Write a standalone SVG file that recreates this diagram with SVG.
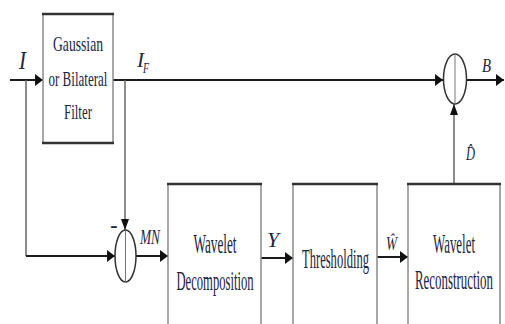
<svg xmlns="http://www.w3.org/2000/svg" width="505" height="324" viewBox="0 0 505 324">
<style>
.bg{fill:#ffffff}
.side{fill:none;stroke:#8a8a8a;stroke-width:1.5}
.edge{stroke:#333;stroke-width:2.5}
.h{stroke:#1a1a1a;stroke-width:2;fill:none}
.v{stroke:#666;stroke-width:1.5;fill:none}
.sum{fill:none;stroke:#333;stroke-width:1.5}
.cross{stroke:#777;stroke-width:1}
.t{font-family:"Liberation Serif","Times New Roman",serif;fill:#1c2540;text-anchor:middle}
.lab{font-family:"Liberation Serif","Times New Roman",serif;font-style:italic;fill:#1c2540}
</style>
<defs>
<marker id="ah" markerUnits="userSpaceOnUse" markerWidth="8" markerHeight="12" refX="8" refY="6" orient="auto"><path d="M0,0 L8,6 L0,12 Z" fill="#111"/></marker>
<marker id="av" markerUnits="userSpaceOnUse" markerWidth="11" markerHeight="8" refX="11" refY="4" orient="auto"><path d="M0,0 L11,4 L0,8 Z" fill="#111"/></marker>
</defs>
<rect class="bg" x="0" y="0" width="505" height="324"/>

<g id="connectors">
<line class="h" x1="10" y1="80" x2="43" y2="80" marker-end="url(#ah)"/>
<line class="h" x1="113" y1="80" x2="443" y2="80" marker-end="url(#ah)"/>
<line class="h" x1="466" y1="80" x2="504" y2="80" marker-end="url(#ah)"/>
<polyline class="v" points="26,80 26,256"/>
<line class="h" x1="26" y1="256" x2="115" y2="256" marker-end="url(#ah)"/>
<line class="v" x1="125" y1="80" x2="125" y2="230" marker-end="url(#av)"/>
<line class="h" x1="136" y1="256" x2="168" y2="256" marker-end="url(#ah)"/>
<line class="h" x1="261" y1="258" x2="293" y2="258" marker-end="url(#ah)"/>
<line class="h" x1="377" y1="257" x2="408" y2="257" marker-end="url(#ah)"/>
<line class="v" x1="454" y1="184" x2="454" y2="104" marker-end="url(#av)"/>
</g>

<g id="filter">
<rect class="side" x="43" y="14" width="70" height="129"/>
<line class="edge" x1="42" y1="14" x2="114" y2="14"/>
<line class="edge" x1="42" y1="143" x2="114" y2="143"/>
<text class="t" font-size="22" x="78" y="51" textLength="50" lengthAdjust="spacingAndGlyphs">Gaussian</text>
<text class="t" font-size="22" x="78" y="86" textLength="59" lengthAdjust="spacingAndGlyphs">or Bilateral</text>
<text class="t" font-size="22" x="78" y="119" textLength="28" lengthAdjust="spacingAndGlyphs">Filter</text>
</g>

<g id="sum1">
<ellipse class="sum" cx="125.5" cy="256" rx="10.5" ry="26"/>
<line class="cross" x1="125.5" y1="230" x2="125.5" y2="282"/>
<text class="t" font-size="22" font-weight="bold" x="114" y="232">-</text>
</g>

<g id="sum2">
<ellipse class="sum" cx="455" cy="79" rx="11.5" ry="25"/>
<line class="cross" x1="455" y1="54" x2="455" y2="104"/>
</g>

<g id="decomp">
<rect class="side" x="168" y="184" width="93" height="200"/>
<line class="edge" x1="167" y1="184" x2="262" y2="184"/>
<text class="t" font-size="27" x="215" y="253" textLength="43" lengthAdjust="spacingAndGlyphs">Wavelet</text>
<text class="t" font-size="27" x="215" y="290" textLength="77" lengthAdjust="spacingAndGlyphs">Decomposition</text>
</g>

<g id="thresh">
<rect class="side" x="293" y="184" width="84" height="200"/>
<line class="edge" x1="292" y1="184" x2="378" y2="184"/>
<text class="t" font-size="28" x="335.5" y="268" textLength="67" lengthAdjust="spacingAndGlyphs">Thresholding</text>
</g>

<g id="recon">
<rect class="side" x="408" y="184" width="92" height="200"/>
<line class="edge" x1="407" y1="184" x2="501" y2="184"/>
<text class="t" font-size="27" x="454" y="253" textLength="42" lengthAdjust="spacingAndGlyphs">Wavelet</text>
<text class="t" font-size="27" x="454" y="289" textLength="78" lengthAdjust="spacingAndGlyphs">Reconstruction</text>
</g>

<g id="labels">
<text class="lab" font-size="26" x="19" y="69" textLength="7" lengthAdjust="spacingAndGlyphs">I</text>
<text class="lab" font-size="21" x="137" y="67" textLength="7" lengthAdjust="spacingAndGlyphs">I</text>
<text class="lab" font-size="15" x="143" y="73" textLength="6" lengthAdjust="spacingAndGlyphs">F</text>
<text class="lab" font-size="21" x="140" y="244" textLength="20" lengthAdjust="spacingAndGlyphs">MN</text>
<text class="lab" font-size="21" x="267" y="247" textLength="12" lengthAdjust="spacingAndGlyphs">Y</text>
<text class="lab" font-size="19" x="386" y="250" textLength="11" lengthAdjust="spacingAndGlyphs">Ŵ</text>
<text class="lab" font-size="19" x="482" y="72" textLength="9" lengthAdjust="spacingAndGlyphs">B</text>
<text class="lab" font-size="19" x="466" y="160" textLength="9" lengthAdjust="spacingAndGlyphs">D̂</text>
</g>
</svg>
